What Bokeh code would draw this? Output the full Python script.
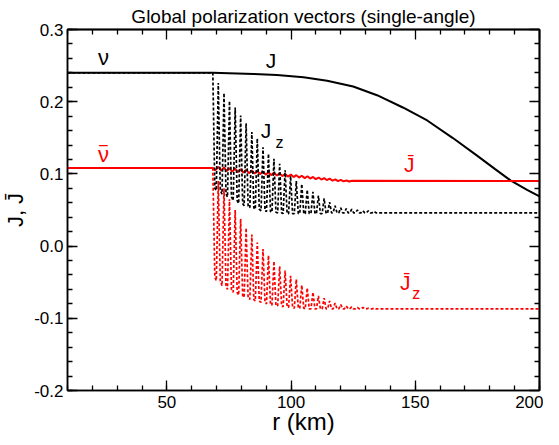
from bokeh.plotting import figure
from bokeh.models import LinearAxis, FixedTicker, NumeralTickFormatter, Range1d
from bokeh.core.properties import value
from bokeh.embed import file_html
from bokeh.resources import INLINE

FONT = "Liberation Sans"
RED = "#ff0000"

# ---- data ----
# J (solid black)
j_r = [10, 68.5, 75, 85, 94.3, 105, 114.5, 125, 134.6, 145, 154.8, 165, 175, 182, 188.3, 195, 200]
j_v = [0.240, 0.240, 0.2395, 0.2385, 0.237, 0.234, 0.229, 0.221, 0.209, 0.192, 0.174, 0.150,
       0.125, 0.107, 0.091, 0.078, 0.069]

# J-bar (solid red), wiggly part
jb_r = [10, 68.5, 69.6, 70.7, 71.9, 73.0, 74.1, 75.2, 76.3, 77.5, 78.6, 79.7, 80.8, 81.9, 83.1,
        84.2, 85.3, 86.4, 87.5, 88.7, 89.8, 90.9, 92.0, 93.1, 94.3, 95.4, 96.5, 97.6, 98.7,
        99.9, 101.0, 102.1, 103.2, 104.3, 105.5, 106.6, 107.7, 108.8, 109.9, 111.1, 112.2,
        113.3, 114.4, 115.5, 116.7, 117.8, 118.9, 120.0, 121.1, 122.3, 123.4, 124.5, 200]
jb_v = [0.108, 0.1080, 0.1051, 0.1098, 0.1045, 0.1089, 0.1038, 0.1081, 0.1031, 0.1072, 0.1024,
        0.1065, 0.1018, 0.1056, 0.1010, 0.1048, 0.1004, 0.1040, 0.0997, 0.1032, 0.0990, 0.1023,
        0.0983, 0.1016, 0.0977, 0.1007, 0.0969, 0.0999, 0.0963, 0.0991, 0.0956, 0.0983, 0.0949,
        0.0974, 0.0942, 0.0967, 0.0936, 0.0958, 0.0928, 0.0950, 0.0922, 0.0942, 0.0915, 0.0934,
        0.0908, 0.0925, 0.0901, 0.0917, 0.0896, 0.0909, 0.0894, 0.0905, 0.090]

# oscillation columns of Jz and Jz-bar (dotted)
col_r = [68.5, 70.7, 73.0, 75.2, 77.5, 79.7, 81.9, 84.2, 86.4, 88.7, 90.9, 93.1, 95.4, 97.6,
         99.8, 102.1, 104.3, 106.5, 108.8, 111.0, 113.3, 115.5, 117.7, 120.0, 122.2, 124.4,
         126.7, 128.9, 131.1, 133.4]
jz_top = [0.240, 0.226, 0.212, 0.201, 0.192, 0.181, 0.170, 0.158, 0.149, 0.137, 0.128, 0.121,
          0.114, 0.105, 0.097, 0.090, 0.086, 0.078, 0.075, 0.070, 0.066, 0.061, 0.056, 0.053,
          0.052, 0.051, 0.050, 0.049, 0.049, 0.048]
jz_base = [0.080, 0.077, 0.072, 0.068, 0.063, 0.059, 0.056, 0.053, 0.051, 0.049, 0.048, 0.047,
           0.046, 0.045, 0.045, 0.045, 0.045, 0.045, 0.045, 0.045, 0.045, 0.046, 0.046, 0.046,
           0.046, 0.046, 0.046, 0.046, 0.046, 0.046]
jbz_top = [0.108, 0.090, 0.080, 0.065, 0.050, 0.038, 0.025, 0.016, 0.005, -0.004, -0.013, -0.021,
           -0.028, -0.034, -0.041, -0.046, -0.054, -0.058, -0.064, -0.069, -0.072, -0.076,
           -0.079, -0.081, -0.083, -0.084, -0.085, -0.085, -0.086, -0.086]
jbz_base = [-0.043, -0.048, -0.055, -0.060, -0.064, -0.068, -0.071, -0.074, -0.076, -0.078,
            -0.080, -0.082, -0.083, -0.084, -0.085, -0.086, -0.086, -0.087, -0.087, -0.087,
            -0.087, -0.087, -0.087, -0.087, -0.087, -0.087, -0.087, -0.087, -0.087, -0.087]
jz_start = 0.240
jbz_start = 0.108
jz_end = 0.046
jbz_end = -0.087
r_min, r_max = 10, 200

x_ticks = [50, 100, 150, 200]
y_ticks = [-0.2, -0.1, 0.0, 0.1, 0.2, 0.3]
x_minor = [10, 20, 30, 40, 60, 70, 80, 90, 110, 120, 130, 140, 160, 170, 180, 190]
y_minor = [-0.18, -0.16, -0.14, -0.12, -0.08, -0.06, -0.04, -0.02, 0.02, 0.04, 0.06, 0.08,
           0.12, 0.14, 0.16, 0.18, 0.22, 0.24, 0.26, 0.28]

HW = 0.8  # half width of each oscillation column (km)


def columns(start, tops, bases, end):
    xs = [r_min, col_r[0], col_r[0] + HW]
    ys = [start, tops[0], bases[0]]
    for r, t, b in zip(col_r[1:], tops[1:], bases[1:]):
        xs += [r - HW, r, r + HW]
        ys += [b, t, b]
    xs.append(r_max)
    ys.append(end)
    return xs, ys


p = figure(width=543, height=437, x_range=Range1d(r_min, r_max), y_range=Range1d(-0.2, 0.3),
           output_backend="svg", toolbar_location=None,
           min_border_left=10, min_border_right=4, min_border_top=0, min_border_bottom=10)
p.grid.visible = False
p.outline_line_color = "black"
p.outline_line_width = 1.5
p.background_fill_color = "white"
p.border_fill_color = "white"

p.title.text = "Global polarization vectors (single-angle)"
p.title.align = "center"
p.title.text_font = FONT
p.title.text_font_size = "19px"
p.title.text_font_style = "normal"
p.title.text_color = "black"
p.title.standoff = 6


def style(ax, ticks, minor):
    ax.ticker = FixedTicker(ticks=ticks, minor_ticks=minor + ticks)
    ax.axis_line_color = "black"
    ax.axis_line_width = 1.5
    ax.major_tick_in = 10
    ax.major_tick_out = 0
    ax.minor_tick_in = 5
    ax.minor_tick_out = 0
    ax.major_tick_line_width = 1.3
    ax.minor_tick_line_width = 1.3
    ax.major_label_text_font = FONT
    ax.major_label_text_font_size = "17px"
    ax.major_label_text_color = "black"
    ax.axis_label_text_font = FONT
    ax.axis_label_text_font_size = "22px"
    ax.axis_label_text_font_style = "normal"
    ax.axis_label_text_color = "black"


def bare(ticks, length):
    # an axis with no labels: only inward ticks
    ax = LinearAxis(ticker=FixedTicker(ticks=[], minor_ticks=ticks))
    ax.axis_line_color = "black"
    ax.axis_line_width = 1.5
    ax.minor_tick_in = length
    ax.minor_tick_out = 0
    ax.minor_tick_line_width = 1.3
    ax.major_tick_out = 0
    ax.major_label_standoff = 0
    return ax


style(p.xaxis[0], x_ticks, x_minor)
p.xaxis[0].axis_label = "r (km)"
p.xaxis[0].axis_label_text_font_size = "24px"
p.xaxis[0].major_label_standoff = 5
p.xaxis[0].axis_label_standoff = -3
style(p.yaxis[0], y_ticks, y_minor)
p.yaxis[0].formatter = NumeralTickFormatter(format="0.0")
p.yaxis[0].axis_label = "J, J\u0304"
p.yaxis[0].major_label_standoff = 4
p.yaxis[0].axis_label_standoff = 3

p.add_layout(bare(x_minor, 5), "above")
p.add_layout(bare(x_ticks, 10), "above")
p.add_layout(bare(y_minor, 5), "right")
p.add_layout(bare(y_ticks, 10), "right")

# curves
p.line(j_r, j_v, line_color="black", line_width=2)
p.line(jb_r, jb_v, line_color=RED, line_width=2)
zx, zy = columns(jz_start, jz_top, jz_base, jz_end)
p.line(zx, zy, line_color="black", line_width=1.7, line_dash="3 2")
bx, by = columns(jbz_start, jbz_top, jbz_base, jbz_end)
p.line(bx, by, line_color=RED, line_width=1.7, line_dash="3 2")


# labels
def lab(x, y, t, color, size):
    p.text([x], [y], text=[t], text_color=color, text_font=value(FONT),
           text_font_size=size, text_align="center", text_baseline="middle")


lab(24.5, 0.261, "\u03bd", "black", "22px")
lab(91.9, 0.257, "J", "black", "21px")
lab(89.9, 0.160, "J", "black", "21px")
lab(95.3, 0.143, "z", "black", "16px")
lab(24.5, 0.127, "\u03bd", RED, "22px")
lab(24.5, 0.125, "\u203e", RED, "22px")
lab(147.6, 0.113, "J\u0304", RED, "21px")
lab(146.0, -0.051, "J\u0304", RED, "21px")
lab(150.4, -0.066, "z", RED, "16px")

open("out.html", "w").write(file_html(p, INLINE))
